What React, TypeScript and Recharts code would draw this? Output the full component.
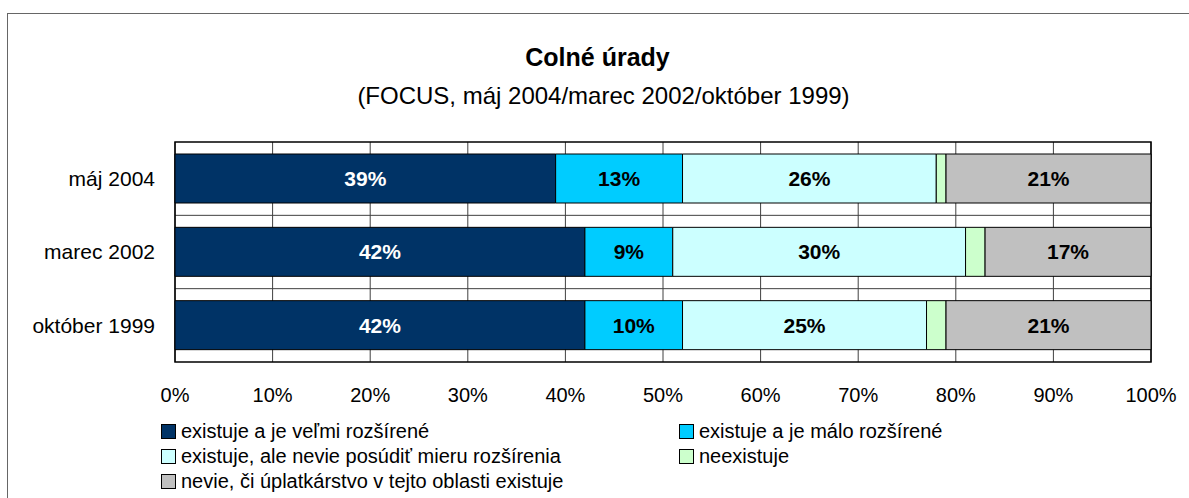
import React from "react";
import {
  BarChart,
  Bar,
  XAxis,
  YAxis,
  CartesianGrid,
  Legend,
  LabelList,
  ReferenceArea,
} from "recharts";

const periods = ["máj 2004", "marec 2002", "október 1999"];
const velmiRozsirene = [39, 42, 42];
const maloRozsirene = [13, 9, 10];
const nevieMieru = [26, 30, 25];
const neexistuje = [1, 2, 2];
const nevieCi = [21, 17, 21];
const xTicks = [0, 10, 20, 30, 40, 50, 60, 70, 80, 90, 100];

const series = [
  { key: "velmi", name: "existuje a je veľmi rozšírené", color: "#003366", label: "#ffffff", values: velmiRozsirene },
  { key: "malo", name: "existuje a je málo rozšírené", color: "#00CCFF", label: "#000000", values: maloRozsirene },
  { key: "mieru", name: "existuje, ale nevie posúdiť mieru rozšírenia", color: "#CCFFFF", label: "#000000", values: nevieMieru },
  { key: "neex", name: "neexistuje", color: "#CCFFCC", label: null, values: neexistuje },
  { key: "nevie", name: "nevie, či úplatkárstvo v tejto oblasti existuje", color: "#C0C0C0", label: "#000000", values: nevieCi },
];

const data = periods.map((period, i) => {
  const row: Record<string, string | number> = { period };
  series.forEach((s) => {
    row[s.key] = s.values[i];
  });
  return row;
});

const FONT = "'Liberation Sans', Arial, sans-serif";

// keep the legend in series order (recharts sorts it by name otherwise)
const LegendGrid = (props: any) => {
  const order = series.map((s) => s.name);
  const items = [...(props.payload || [])].sort(
    (a: any, b: any) => order.indexOf(a.value) - order.indexOf(b.value)
  );
  return (
    <div
      style={{
        display: "grid",
        gridTemplateColumns: "518px 480px",
        rowGap: 3,
        fontFamily: FONT,
        fontSize: 20,
        color: "#000",
      }}
    >
      {items.map((item: any) => (
        <div key={item.value} style={{ display: "flex", alignItems: "center", height: 22 }}>
          <span
            style={{
              display: "inline-block",
              width: 13,
              height: 13,
              background: item.color,
              border: "1px solid #000",
              marginRight: 5,
            }}
          />
          <span>{item.value}</span>
        </div>
      ))}
    </div>
  );
};

export default function App() {
  return (
    <div
      style={{
        position: "fixed",
        left: 0,
        top: 0,
        width: 1189,
        height: 498,
        background: "#fff",
        overflow: "hidden",
        fontFamily: FONT,
      }}
    >
      <div
        style={{
          position: "absolute",
          left: 7,
          top: 13,
          width: 1300,
          height: 600,
          borderLeft: "1px solid #666",
          borderTop: "1px solid #666",
        }}
      />
      <div
        style={{
          position: "absolute",
          left: 0,
          width: 1189,
          top: 43,
          textAlign: "center",
          fontWeight: "bold",
          fontSize: 25,
          paddingLeft: 6,
          boxSizing: "border-box",
        }}
      >
        Colné úrady
      </div>
      <div
        style={{
          position: "absolute",
          left: 0,
          width: 1189,
          top: 82,
          textAlign: "center",
          fontSize: 24,
          paddingLeft: 18,
          boxSizing: "border-box",
        }}
      >
        (FOCUS, máj 2004/marec 2002/október 1999)
      </div>
      <BarChart
        width={1189}
        height={498}
        data={data}
        layout="vertical"
        margin={{ top: 142, right: 38, left: 0, bottom: 106 }}
      >
        <CartesianGrid
          stroke="#404040"
          vertical
          horizontal
          horizontalCoordinatesGenerator={({ offset }: any) =>
            periods.slice(1).map((_, i) => offset.top + ((i + 1) * offset.height) / periods.length)
          }
        />
        <XAxis
          type="number"
          domain={[0, 100]}
          ticks={xTicks}
          tickFormatter={(v) => `${v}%`}
          axisLine={false}
          tickLine={false}
          tickSize={0}
          tickMargin={26}
          height={30}
          tick={{ fill: "#000", fontSize: 20, fontFamily: FONT }}
        />
        <YAxis
          type="category"
          dataKey="period"
          width={175}
          axisLine={false}
          tickLine={false}
          tickSize={0}
          tickMargin={20}
          tick={{ fill: "#000", fontSize: 21, fontFamily: FONT }}
        />
        <Legend
          layout="vertical"
          align="center"
          verticalAlign="middle"
          wrapperStyle={{ position: "absolute", left: 161, top: 420, width: 1010 }}
          content={<LegendGrid />}
        />
        {series.map((s) => (
          <Bar
            key={s.key}
            dataKey={s.key}
            name={s.name}
            stackId="a"
            fill={s.color}
            stroke="#000"
            strokeWidth={1}
            barSize={49}
            isAnimationActive={false}
          >
            {s.label && (
              <LabelList
                dataKey={s.key}
                position="center"
                formatter={(v: any) => `${v}%`}
                fill={s.label}
                fontSize={21}
                fontWeight="bold"
                fontFamily={FONT}
              />
            )}
          </Bar>
        ))}
        <ReferenceArea x1={0} x2={100} fill="none" stroke="#000" strokeWidth={1.5} />
      </BarChart>
    </div>
  );
}
